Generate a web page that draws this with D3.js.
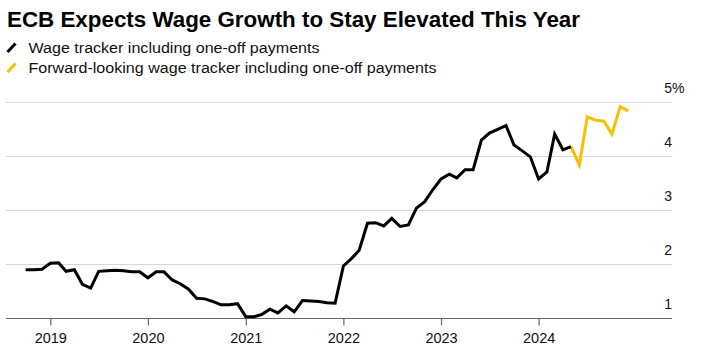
<!DOCTYPE html>
<html>
<head>
<meta charset="utf-8">
<script src="https://cdn.jsdelivr.net/npm/d3@7"></script>
<style>
  html, body { margin: 0; padding: 0; background: #fff; }
  svg { display: block; font-family: "Liberation Sans", Arial, Helvetica, sans-serif; }
</style>
</head>
<body>
<svg id="chart" width="706" height="356"></svg>
<script>
// ---- Data ----
const title = "ECB Expects Wage Growth to Stay Elevated This Year";
const seriesNames = ["Wage tracker including one-off payments", "Forward-looking wage tracker including one-off payments"];
const wageStart = "2018-10";      // first month of the wage tracker series
const wageValues = [
  1.90, 1.90, 1.91,                                                   // Oct-Dec 2018
  2.02, 2.03, 1.87, 1.90, 1.63, 1.56, 1.87, 1.88, 1.89, 1.88, 1.86, 1.86, // 2019
  1.75, 1.86, 1.86, 1.71, 1.64, 1.54, 1.37, 1.36, 1.31, 1.25, 1.25, 1.27, // 2020
  1.03, 1.03, 1.07, 1.17, 1.10, 1.23, 1.12, 1.33, 1.32, 1.31, 1.29, 1.28, // 2021
  1.97, 2.11, 2.26, 2.76, 2.77, 2.71, 2.85, 2.70, 2.73, 3.04, 3.16, 3.38, // 2022
  3.58, 3.67, 3.60, 3.75, 3.75, 4.30, 4.43, 4.50, 4.57, 4.21, 4.10, 3.99, // 2023
  3.58, 3.71, 4.41, 4.12, 4.18                                        // Jan-May 2024
];
const forwardStart = "2024-05";   // first month of the forward-looking series
const forwardValues = [4.18, 3.84, 4.73, 4.67, 4.65, 4.41, 4.92, 4.84]; // May-Dec 2024
const yTicks = [1, 2, 3, 4, 5];
const xTickYears = [2019, 2020, 2021, 2022, 2023, 2024];
const colors = ["#000000", "#f7bf00"];

// ---- Build series ----
const parseMonth = d3.timeParse("%Y-%m");
function toSeries(start, values) {
  const s = parseMonth(start);
  return values.map((v, i) => ({ date: d3.timeMonth.offset(s, i), value: v }));
}
const wage = toSeries(wageStart, wageValues);
const forward = toSeries(forwardStart, forwardValues);

// ---- Layout ----
const svg = d3.select("#chart");
const plotLeft = 6, plotRight = 672;
const x = d3.scaleTime()
  .domain([new Date(2019, 0, 1), new Date(2025, 0, 1)])
  .range([50.3, 636.5]);
const y = d3.scaleLinear().domain([1, 5]).range([318.3, 102.3]);

// Title
svg.append("text")
  .attr("x", 7).attr("y", 26.5)
  .attr("font-size", 22).attr("font-weight", "bold").attr("fill", "#000")
  .attr("textLength", 573).attr("lengthAdjust", "spacingAndGlyphs")
  .text(title);

// Legend
const legendY = [53, 73];
const legendW = [291, 408];
seriesNames.forEach((name, i) => {
  svg.append("line")
    .attr("x1", 7.5).attr("y1", legendY[i] - 1)
    .attr("x2", 15.5).attr("y2", legendY[i] - 9.5)
    .attr("stroke", colors[i]).attr("stroke-width", 3);
  svg.append("text")
    .attr("x", 28.5).attr("y", legendY[i])
    .attr("font-size", 15.5).attr("fill", "#111")
    .attr("textLength", legendW[i]).attr("lengthAdjust", "spacingAndGlyphs")
    .text(name);
});

// Grid lines
const grid = svg.append("g");
grid.selectAll("line").data(yTicks.filter(t => t !== 1)).join("line")
  .attr("x1", plotLeft).attr("x2", plotRight)
  .attr("y1", d => Math.round(y(d)) + 0.5).attr("y2", d => Math.round(y(d)) + 0.5)
  .attr("stroke", "#d6d6d6").attr("stroke-width", 1);

// Y labels (above gridlines, right-aligned)
const yl = svg.append("g").attr("font-size", 14).attr("fill", "#111");
yl.selectAll("text").data(yTicks).join("text")
  .attr("x", plotRight).attr("y", d => y(d) - 9.5)
  .attr("text-anchor", "end")
  .text(d => d);
yl.append("text").attr("x", plotRight).attr("y", y(5) - 9.5).text("%");

// X axis
const xAxis = d3.axisBottom(x)
  .tickValues(xTickYears.map(yr => new Date(yr, 0, 1)))
  .tickFormat(d3.timeFormat("%Y"))
  .tickSize(7).tickPadding(7);
const gx = svg.append("g").attr("transform", `translate(0,${Math.round(y(1)) + 0.5})`).call(xAxis);
gx.select(".domain").remove();
gx.insert("line", ":first-child")
  .attr("x1", plotLeft).attr("x2", plotRight).attr("y1", 0).attr("y2", 0)
  .attr("stroke", "#666").attr("stroke-width", 1.2);
gx.selectAll(".tick line").attr("stroke", "#666").attr("stroke-width", 1.2);
gx.selectAll(".tick text").attr("font-size", 14.5).attr("fill", "#111")
  .attr("font-family", "Liberation Sans, Arial, sans-serif");

// Lines
const line = d3.line().x(d => x(d.date)).y(d => y(d.value));
svg.append("path").datum(forward)
  .attr("fill", "none").attr("stroke", colors[1]).attr("stroke-width", 3)
  .attr("stroke-linejoin", "miter").attr("d", line);
svg.append("path").datum(wage)
  .attr("fill", "none").attr("stroke", colors[0]).attr("stroke-width", 3)
  .attr("stroke-linejoin", "miter").attr("d", line);
</script>
</body>
</html>
